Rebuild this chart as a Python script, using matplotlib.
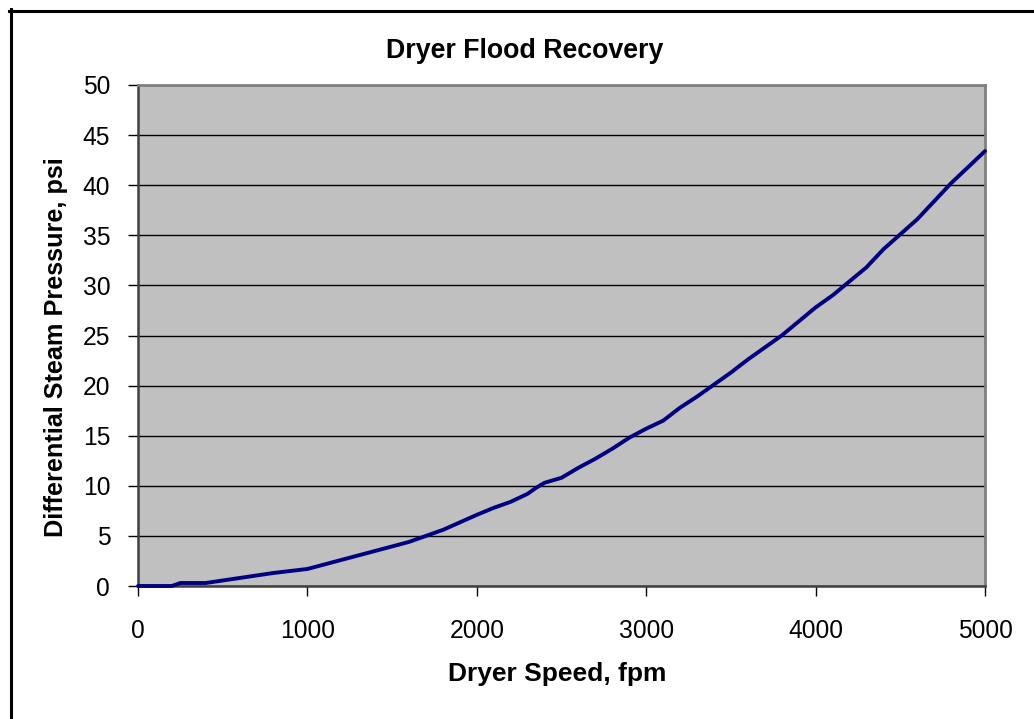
import matplotlib
matplotlib.use("Agg")
import matplotlib.pyplot as plt
from matplotlib.lines import Line2D

title = "Dryer Flood Recovery"
xlabel = "Dryer Speed, fpm"
ylabel = "Differential Steam Pressure, psi"

speed = [0, 200, 250, 400, 600, 800, 1000, 1200, 1400, 1600, 1700, 1800, 2000,
         2100, 2200, 2300, 2350, 2400, 2500, 2600, 2700, 2800, 2900, 3000, 3100,
         3200, 3300, 3400, 3500, 3600, 3700, 3800, 3900, 4000, 4100, 4200, 4300,
         4400, 4500, 4600, 4700, 4800, 4900, 5000]
pressure = [0, 0, 0.3, 0.3, 0.8, 1.3, 1.7, 2.6, 3.5, 4.4, 5.0, 5.6, 7.1,
            7.8, 8.4, 9.2, 9.8, 10.3, 10.8, 11.8, 12.7, 13.7, 14.8, 15.7, 16.5,
            17.8, 18.9, 20.1, 21.3, 22.6, 23.8, 25.0, 26.4, 27.8, 29.0, 30.4, 31.8,
            33.6, 35.1, 36.6, 38.4, 40.2, 41.8, 43.4]
xticks = [0, 1000, 2000, 3000, 4000, 5000]
yticks = [0, 5, 10, 15, 20, 25, 30, 35, 40, 45, 50]

plt.rcParams['font.family'] = ['Liberation Sans', 'DejaVu Sans']

W, H = 1034, 719
fig = plt.figure(figsize=(W / 100, H / 100), dpi=100)
fig.patch.set_facecolor('white')
renderer = fig.canvas.get_renderer()


def fit_size(text, target_w, weight='normal'):
    t = fig.text(0, 0, text, fontsize=10, fontweight=weight)
    w = t.get_window_extent(renderer).width
    t.remove()
    return 10 * target_w / w


def fx(px):
    return px / W


def fy(py):
    return 1 - py / H


ax = fig.add_axes([fx(138), fy(586), (985 - 138) / W, (586 - 85) / H])
ax.set_facecolor('#c0c0c0')
ax.plot(speed, pressure, color='#000080', lw=2.8, solid_joinstyle='round',
        solid_capstyle='round', zorder=3, clip_on=False)
ax.set_xlim(0, 5000)
ax.set_ylim(0, 50)
ax.set_xticks(xticks)
ax.set_yticks(yticks)

tick_fs = fit_size("5000", 55)
ax.set_xticklabels([str(v) for v in xticks], fontsize=tick_fs)
ax.set_yticklabels([str(v) for v in yticks], fontsize=tick_fs)
ax.yaxis.grid(True, color='black', lw=1)
ax.set_axisbelow(True)
ax.tick_params(axis='both', direction='out', length=7, width=1, color='black')
ax.tick_params(axis='x', pad=17)
ax.tick_params(axis='y', pad=13)
for side in ['top', 'right']:
    ax.spines[side].set_color('#808080')
    ax.spines[side].set_linewidth(2)
for side in ['left', 'bottom']:
    ax.spines[side].set_color('#404040')
    ax.spines[side].set_linewidth(1.8)

title_fs = fit_size(title, 279, 'bold')
xl_fs = fit_size(xlabel, 219, 'bold')
yl_fs = fit_size(ylabel, 381, 'bold')

fig.text(fx(524.5), fy(58.3), title, ha='center', va='baseline',
         fontsize=title_fs, fontweight='bold')
xl_cap = 0.716 * xl_fs * 100 / 72
fig.text(fx(557), fy(662 + xl_cap), xlabel, ha='center', va='baseline',
         fontsize=xl_fs, fontweight='bold')
fig.text(fx(63), fy(347.5), ylabel, ha='center', va='baseline', rotation=90,
         rotation_mode='anchor', fontsize=yl_fs, fontweight='bold')

# frame lines (left and top edges)
fig.add_artist(Line2D([fx(10.5), fx(10.5)], [0, fy(9)], transform=fig.transFigure,
                      color='black', lw=2.2))
fig.add_artist(Line2D([fx(9), 1], [fy(10.5), fy(10.5)], transform=fig.transFigure,
                      color='black', lw=2.2))

fig.savefig('out.png', dpi=100)
